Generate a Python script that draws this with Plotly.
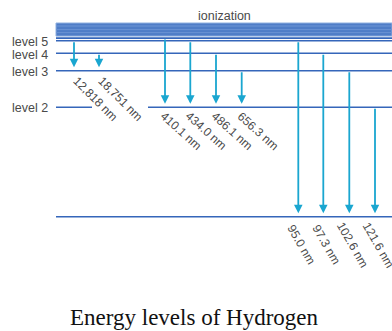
import plotly.graph_objects as go

# ---- data (schematic energy-level diagram) ----
level_names = ["level 1", "level 2", "level 3", "level 4", "level 5", "level 6"]
level_height = [0.0, 109.5, 146.0, 163.4, 175.9, 178.6]   # schematic heights
ionization_band = [180.6, 193.7]

lyman_labels = ["95.0 nm", "97.3 nm", "102.6 nm", "121.6 nm"]
lyman_upper = [5, 4, 3, 2]
lyman_x = [298.3, 323.3, 349.3, 375.0]

balmer_labels = ["410.1 nm", "434.0 nm", "486.1 nm", "656.3 nm"]
balmer_upper = [6, 5, 4, 3]
balmer_x = [165.0, 190.3, 216.0, 241.7]

paschen_labels = ["12,818 nm", "18,751 nm"]
paschen_upper = [5, 4]
paschen_x = [74.0, 99.0]

caption = "Energy levels of Hydrogen"

# ---- styles ----
W, H = 392, 331
X0, X1 = 56, 392
LINE_C = "#3566ba"
BAND_C = "#4f7dc7"
ARROW_C = "#1aa6d0"
TEXT_C = "#4a4a4a"
FONT = "Liberation Sans, Arial, sans-serif"
y_top = 216.7
y_bot = y_top - H

def h(n):
    return level_height[n - 1]

fig = go.Figure()

# ionization band
fig.add_trace(go.Scatter(
    x=[X0, X1, X1, X0, X0],
    y=[ionization_band[0], ionization_band[0], ionization_band[1], ionization_band[1], ionization_band[0]],
    fill="toself", fillcolor=BAND_C, mode="lines",
    line=dict(color="#8fb0e0", width=1), hoverinfo="skip", showlegend=False))
for yy, c, w in [(ionization_band[1] - 3, "#6f97d6", 1), (ionization_band[0] + 3.5, "#6a92d3", 1),
                 (ionization_band[0] + 6.5, "#6a92d3", 1)]:
    fig.add_trace(go.Scatter(x=[X0, X1], y=[yy, yy], mode="lines",
                             line=dict(color=c, width=w), hoverinfo="skip", showlegend=False))

# level lines
for n in range(1, 7):
    if n == 2:
        xs = [X0, 92, None, 148, X1]
        ys = [h(n), h(n), None, h(n), h(n)]
    else:
        xs = [X0, X1]
        ys = [h(n), h(n)]
    fig.add_trace(go.Scatter(x=xs, y=ys, mode="lines",
                             line=dict(color=LINE_C, width=1.6),
                             hoverinfo="skip", showlegend=False))

# level labels
for n in [2, 3, 4, 5]:
    fig.add_annotation(x=50, y=h(n) - 1.2, text=level_names[n - 1], showarrow=False,
                       xanchor="right", yanchor="middle",
                       font=dict(family=FONT, size=12.5, color=TEXT_C))

fig.add_annotation(x=224, y=y_top - 15.5, text="ionization", showarrow=False,
                   xanchor="center", yanchor="middle",
                   font=dict(family=FONT, size=12.5, color=TEXT_C))

# transitions
series = [
    (paschen_labels, paschen_upper, paschen_x, 3, 21.5, -28.3, 45),
    (balmer_labels, balmer_upper, balmer_x, 2, 16.0, -23.8, 42),
    (lyman_labels, lyman_upper, lyman_x, 1, 3.5, -27.8, 60),
]
for labels, uppers, xs, lower, dx, dy, ang in series:
    for lab, up, x in zip(labels, uppers, xs):
        fig.add_annotation(x=x, y=h(lower) + 3.5, ax=x, ay=h(up),
                           axref="x", ayref="y", xref="x", yref="y",
                           text="", showarrow=True, arrowhead=2, arrowsize=0.95,
                           arrowwidth=1.8, arrowcolor=ARROW_C, standoff=0, startstandoff=0)
        fig.add_annotation(x=x + dx, y=h(lower) + dy, text=lab, showarrow=False,
                           textangle=ang, xanchor="center", yanchor="middle",
                           font=dict(family=FONT, size=12, color=TEXT_C))

# caption
fig.add_annotation(x=0.497, y=0, xref="paper", yref="paper",
                   text=caption, showarrow=False,
                   xanchor="center", yanchor="bottom", borderpad=0,
                   font=dict(family="Liberation Serif, Times New Roman, serif", size=23, color="#111111"))

fig.update_layout(
    width=W, height=H, margin=dict(l=0, r=0, t=0, b=0),
    paper_bgcolor="white", plot_bgcolor="white", showlegend=False,
    xaxis=dict(range=[0, W], visible=False, fixedrange=True),
    yaxis=dict(range=[y_bot, y_top], visible=False, fixedrange=True),
)
fig.write_html("out.html", config={"displayModeBar": False})
